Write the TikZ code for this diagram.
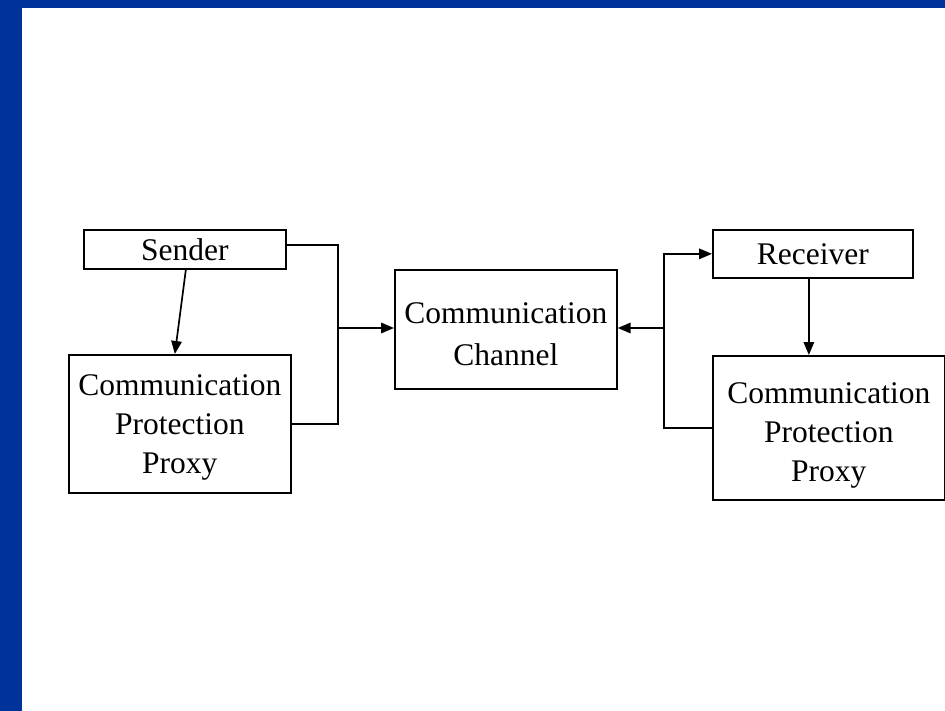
\documentclass[tikz,border=0pt]{standalone}
\usepackage{fontspec}
\setmainfont{Liberation Serif}
\usetikzlibrary{arrows.meta}
\definecolor{frameblue}{RGB}{0,51,153}
\begin{document}
\begin{tikzpicture}[x=1pt,y=-1pt,
  box/.style={draw, line width=1.7pt, inner sep=0pt, align=center,
    font=\fontsize{31.5}{39}\selectfont, anchor=north west},
  txt/.style={inner sep=0pt, align=center, font=\fontsize{31.5}{39}\selectfont},
  link/.style={line width=1.7pt},
  arr/.style={line width=1.7pt, -{Triangle[length=13pt,width=10.5pt]}}]
\useasboundingbox (0,0) rectangle (945,711);
% slide frame
\fill[frameblue] (0,0) rectangle (945,8);
\fill[frameblue] (0,0) rectangle (22,711);

% boxes
\node[box, minimum width=202pt, minimum height=39pt] (sender) at (83,229) {Sender};
\node[box, minimum width=222pt, minimum height=138pt] (lcpp) at (68,354) {};
\node[box, minimum width=222pt, minimum height=119pt] (chan) at (394,269) {};
\node[box, minimum width=200pt, minimum height=48pt] (recv) at (712,229) {Receiver};
\node[box, minimum width=232pt, minimum height=144pt] (rcpp) at (712,355) {};

% box texts
\node[txt] (lcpptext) at ([yshift=-4pt]lcpp.center) {Communication\\Protection\\Proxy};
\node[txt, font=\fontsize{31.5}{42}\selectfont] (chantext) at ([yshift=-5pt]chan.center) {Communication\\Channel};
\node[txt] (rcpptext) at ([yshift=-8pt]rcpp.center) {Communication\\Protection\\Proxy};

% junction points
\coordinate (jl) at (338,328);
\coordinate (jr) at (664,328);

% sender side
\draw[arr] ([xshift=1pt]sender.south) -- ([xshift=-5pt]lcpp.north);
\draw[link] ([yshift=4.5pt]sender.east) -| (jl |- lcpp.east) -- (lcpp.east);
\draw[arr] (jl) -- (chan.west |- jl);

% receiver side
\draw[arr] (rcpp.west) -| (jr |- recv.west) -- (recv.west);
\draw[arr] (jr) -- (chan.east |- jr);
\draw[arr] ([xshift=-4pt]recv.south) -- ([xshift=-4pt]recv.south |- rcpp.north);
\end{tikzpicture}
\end{document}
